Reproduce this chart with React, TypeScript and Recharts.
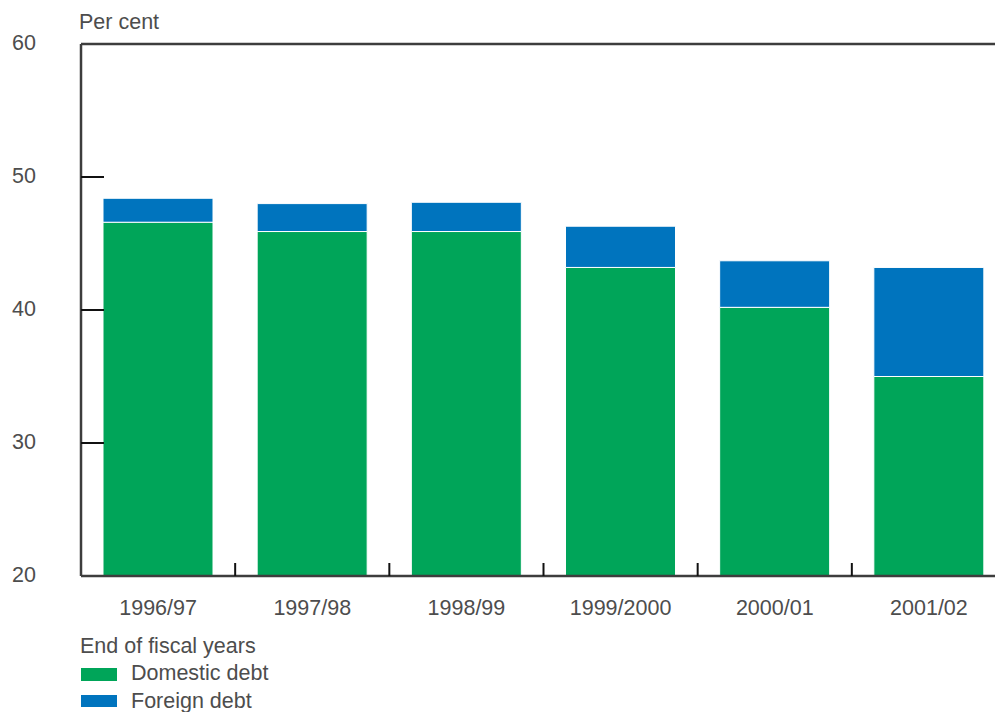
import { BarChart, Bar, XAxis, YAxis, Legend, ReferenceLine } from 'recharts';

const years = ['1996/97', '1997/98', '1998/99', '1999/2000', '2000/01', '2001/02'];
const domesticDebt = [46.6, 45.9, 45.9, 43.2, 40.2, 35.0];
const foreignDebt = [1.8, 2.1, 2.2, 3.1, 3.5, 8.2];
const yTicks = [20, 30, 40, 50, 60];

const GREEN = '#00a559';
const BLUE = '#0074be';
const AXIS = '#3d3d3d';
const TEXT = '#4d4d4d';
const FONT = '"Liberation Sans", Arial, sans-serif';
const FS = 21.5;

const CHART_W = 1010;
const CHART_H = 712;
const PLOT_LEFT = 81;
const PLOT_RIGHT = 1006;
const HALF_BAND = (PLOT_RIGHT - PLOT_LEFT) / years.length / 2;

const data = years.map((year, i) => ({
  year,
  domestic: domesticDebt[i],
  foreign: foreignDebt[i],
}));

function YTick(props: any) {
  const { x, y, payload } = props;
  const v = payload.value;
  return (
    <g>
      {v !== 20 && v !== 60 && (
        <line x1={x} x2={x + 23} y1={y} y2={y} stroke="#111" strokeWidth={2} />
      )}
      <text x={x - 45} y={y + 6} textAnchor="end" fontSize={FS} fill={TEXT} fontFamily={FONT}>
        {v}
      </text>
    </g>
  );
}

function XTick(props: any) {
  const { x, y, payload, index } = props;
  return (
    <g>
      {index < years.length - 1 && (
        <line x1={x + HALF_BAND} x2={x + HALF_BAND} y1={y} y2={y - 13} stroke="#111" strokeWidth={2} />
      )}
      <text x={x} y={y + 39} textAnchor="middle" fontSize={FS} fill={TEXT} fontFamily={FONT}>
        {payload.value}
      </text>
    </g>
  );
}

function LegendBox() {
  return (
    <svg width={400} height={82} style={{ display: 'block' }}>
      <text x={80} y={23} fontSize={FS} fill={TEXT} fontFamily={FONT}>End of fiscal years</text>
      <rect x={81} y={38} width={36} height={13} fill={GREEN} />
      <text x={131} y={50} fontSize={FS} fill={TEXT} fontFamily={FONT}>Domestic debt</text>
      <rect x={81} y={65} width={36} height={12} fill={BLUE} />
      <text x={131} y={78} fontSize={FS} fill={TEXT} fontFamily={FONT}>Foreign debt</text>
    </svg>
  );
}

export default function App() {
  return (
    <div style={{ position: 'absolute', left: 0, top: 0, width: 995, height: CHART_H, overflow: 'hidden', background: '#fff' }}>
      <BarChart
        width={CHART_W}
        height={CHART_H}
        data={data}
        margin={{ top: 44, right: CHART_W - PLOT_RIGHT, left: 0, bottom: 96 }}
        barSize={110}
      >
        <XAxis
          dataKey="year"
          height={40}
          tickSize={0}
          tickMargin={0}
          tickLine={false}
          axisLine={{ stroke: AXIS, strokeWidth: 2.5 }}
          tick={<XTick />}
          interval={0}
        />
        <YAxis
          width={PLOT_LEFT}
          domain={[20, 60]}
          ticks={yTicks}
          allowDataOverflow
          tickSize={0}
          tickMargin={0}
          tickLine={false}
          axisLine={{ stroke: AXIS, strokeWidth: 2.5 }}
          tick={<YTick />}
          label={() => (
            <text x={79} y={29} fontSize={FS} fill={TEXT} fontFamily={FONT}>Per cent</text>
          )}
        />
        <ReferenceLine y={60} stroke={AXIS} strokeWidth={2.5} ifOverflow="visible" />
        <Legend
          layout="horizontal"
          verticalAlign="middle"
          align="center"
          wrapperStyle={{ left: 0, top: 630, width: 400, height: 82 }}
          content={() => <LegendBox />}
        />
        <Bar dataKey="domestic" stackId="a" fill={GREEN} stroke="#fff" strokeWidth={1} isAnimationActive={false} />
        <Bar dataKey="foreign" stackId="a" fill={BLUE} stroke="#fff" strokeWidth={1} isAnimationActive={false} />
      </BarChart>
    </div>
  );
}
